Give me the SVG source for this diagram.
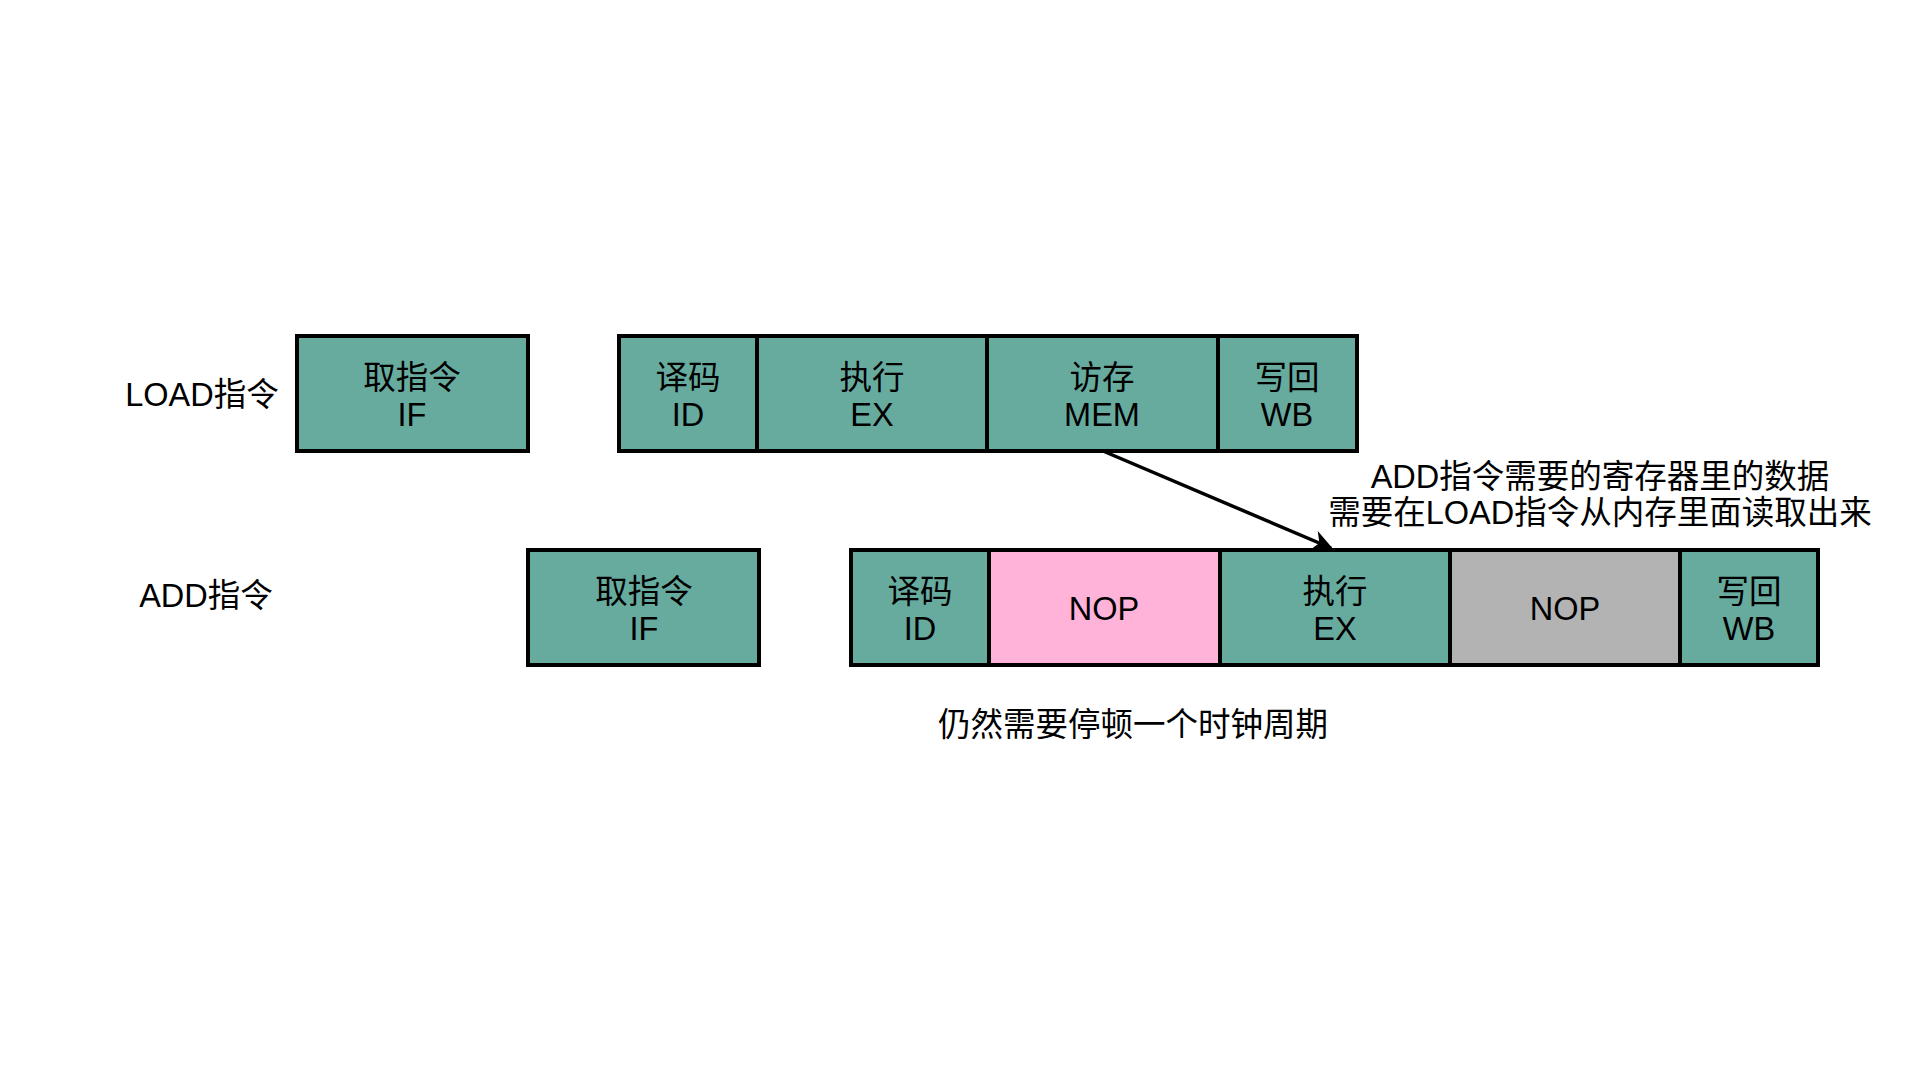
<svg xmlns="http://www.w3.org/2000/svg" width="1920" height="1080" viewBox="0 0 1920 1080">
<style>
  text { font-family: "Liberation Sans", "Noto Sans CJK SC", sans-serif; font-size: 32.5px; fill: #000; text-anchor: middle; }
  .stage { fill: #67AB9F; stroke: #000; stroke-width: 4; }
  .nop1 { fill: #FFB3D9; stroke: #000; stroke-width: 4; }
  .nop2 { fill: #B3B3B3; stroke: #000; stroke-width: 4; }
  .conn { stroke: #000; stroke-width: 3.5; fill: none; }
</style>
<defs>
  <marker id="arrow" viewBox="0 0 10 10" refX="9" refY="5" markerWidth="6" markerHeight="6" markerUnits="strokeWidth" orient="auto">
    <path d="M0,0 L10,5 L0,10 L3,5 Z" fill="#000"/>
  </marker>
</defs>
<rect width="1920" height="1080" fill="#fff"/>

<g id="label-load"><text x="202" y="406">LOAD指令</text></g>
<g id="label-add"><text x="206" y="607">ADD指令</text></g>

<g id="load-if"><rect class="stage" x="297" y="336" width="231" height="115"/><text x="412" y="389">取指令</text><text x="412" y="426">IF</text></g>
<g id="load-id"><rect class="stage" x="619" y="336" width="138" height="115"/><text x="688" y="389">译码</text><text x="688" y="426">ID</text></g>
<g id="load-ex"><rect class="stage" x="757" y="336" width="230" height="115"/><text x="872" y="389">执行</text><text x="872" y="426">EX</text></g>
<g id="load-mem"><rect class="stage" x="987" y="336" width="231" height="115"/><text x="1102" y="389">访存</text><text x="1102" y="426">MEM</text></g>
<g id="load-wb"><rect class="stage" x="1218" y="336" width="139" height="115"/><text x="1287" y="389">写回</text><text x="1287" y="426">WB</text></g>

<g id="add-if"><rect class="stage" x="528" y="550" width="231" height="115"/><text x="644" y="603">取指令</text><text x="644" y="640">IF</text></g>
<g id="add-id"><rect class="stage" x="851" y="550" width="138" height="115"/><text x="920" y="603">译码</text><text x="920" y="640">ID</text></g>
<g id="add-nop1"><rect class="nop1" x="989" y="550" width="231" height="115"/><text x="1104" y="620">NOP</text></g>
<g id="add-ex"><rect class="stage" x="1220" y="550" width="230" height="115"/><text x="1335" y="603">执行</text><text x="1335" y="640">EX</text></g>
<g id="add-nop2"><rect class="nop2" x="1450" y="550" width="230" height="115"/><text x="1565" y="620">NOP</text></g>
<g id="add-wb"><rect class="stage" x="1680" y="550" width="138" height="115"/><text x="1749" y="603">写回</text><text x="1749" y="640">WB</text></g>

<g id="connectors">
  <line class="conn" x1="1103" y1="451" x2="1331" y2="548" marker-end="url(#arrow)"/>
</g>

<g id="note"><text x="1600" y="488">ADD指令需要的寄存器里的数据</text><text x="1600" y="524">需要在LOAD指令从内存里面读取出来</text></g>
<g id="note-stall"><text x="1133" y="736">仍然需要停顿一个时钟周期</text></g>
</svg>
